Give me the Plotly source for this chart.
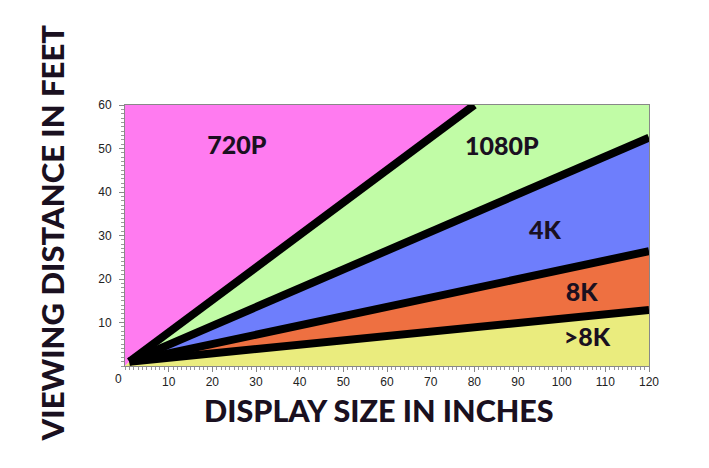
import plotly.graph_objects as go

# Boundary lines (display size in inches -> viewing distance in feet)
b720_x = [1, 80]
b720_y = [1, 60]
b1080_x = [1, 120]
b1080_y = [1, 52.5]
b4k_x = [1, 120]
b4k_y = [1, 26.4]
b8k_x = [1, 120]
b8k_y = [1, 12.9]

x_max = 120
y_max = 60

region_names = ["720P", "1080P", "4K", "8K", ">8K"]
region_colors = ["#FF7BF0", "#C1FCA6", "#6E7EFC", "#EE7041", "#EAEC7E"]
label_x = [25.6, 86.3, 96.2, 104.6, 105.8]
label_y = [50.1, 50.0, 30.6, 16.3, 6.0]

x_ticks = list(range(10, 121, 10))
y_ticks = list(range(10, 61, 10))

fig = go.Figure()

polys = [
    ([0, b720_x[0], b720_x[1], 0], [0, b720_y[0], b720_y[1], y_max]),
    ([b1080_x[0], b1080_x[1], x_max, b720_x[1]], [b1080_y[0], b1080_y[1], y_max, b720_y[1]]),
    ([b4k_x[0], b4k_x[1], b1080_x[1]], [b4k_y[0], b4k_y[1], b1080_y[1]]),
    ([b8k_x[0], b8k_x[1], b4k_x[1]], [b8k_y[0], b8k_y[1], b4k_y[1]]),
    ([0, x_max, b8k_x[1], b8k_x[0]], [0, 0, b8k_y[1], b8k_y[0]]),
]
for (px, py), c in zip(polys, region_colors):
    fig.add_trace(go.Scatter(x=px, y=py, fill="toself", fillcolor=c, mode="lines",
                             line=dict(width=0, color=c), hoverinfo="skip", showlegend=False))

for bx, by in [(b720_x, b720_y), (b1080_x, b1080_y), (b4k_x, b4k_y), (b8k_x, b8k_y)]:
    fig.add_trace(go.Scatter(x=bx, y=by, mode="lines", line=dict(color="black", width=8),
                             hoverinfo="skip", showlegend=False))

fig.add_trace(go.Scatter(x=label_x, y=label_y, mode="text", text=region_names,
                         textfont=dict(family="Lato", size=25, color="#1a1020", weight=900),
                         hoverinfo="skip", showlegend=False))

axis_common = dict(
    showline=True, linecolor="#888", linewidth=1, mirror=True,
    ticks="outside", ticklen=5, tickcolor="#888",
    minor=dict(dtick=1, ticks="outside", ticklen=3, tickcolor="#999", showgrid=False),
    showgrid=True, gridcolor="rgba(255,255,255,0.12)",
    zeroline=False,
    tickfont=dict(family="Liberation Sans", size=12, color="#222"),
)

fig.update_layout(
    width=709, height=468,
    margin=dict(l=117, r=68, t=97, b=110),
    paper_bgcolor="white", plot_bgcolor="white",
    xaxis=dict(range=[0, x_max], tickvals=x_ticks, **axis_common),
    yaxis=dict(range=[0, y_max], tickvals=y_ticks, ticklabelstandoff=5, **axis_common),
    annotations=[
        dict(text="DISPLAY SIZE IN INCHES", xref="paper", yref="paper", x=0.5, y=0,
             yshift=-44, xshift=-8, showarrow=False, yanchor="middle",
             font=dict(family="Lato", size=30.5, color="#1a1020", weight=900)),
        dict(text="VIEWING DISTANCE IN FEET", xref="paper", yref="paper", x=0, y=0.5,
             xshift=-74, yshift=2, textangle=-90, showarrow=False, xanchor="center",
             font=dict(family="Lato", size=31, color="#1a1020", weight=900)),
        dict(text="0", xref="x", yref="paper", x=0, y=0, xshift=-7, yshift=-13,
             showarrow=False, yanchor="middle",
             font=dict(family="Liberation Sans", size=12, color="#222")),
    ],
)

fig.write_html("out.html")
